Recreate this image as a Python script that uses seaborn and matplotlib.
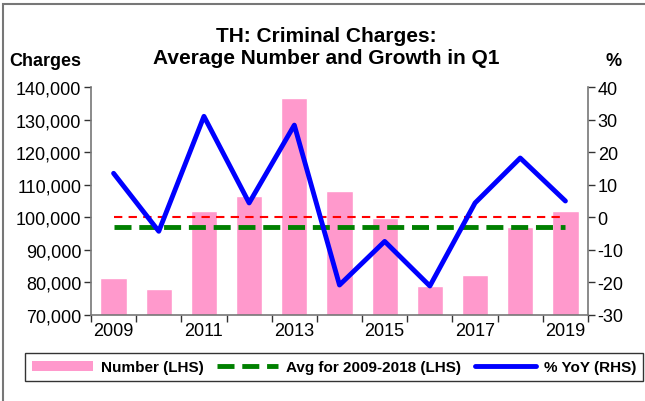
import numpy as np
import pandas as pd
import matplotlib
matplotlib.use("Agg")
import matplotlib.pyplot as plt
import seaborn as sns
from matplotlib.patches import Patch, Rectangle
from matplotlib.lines import Line2D

years = [2009, 2010, 2011, 2012, 2013, 2014, 2015, 2016, 2017, 2018, 2019]
number = [81400, 77900, 101900, 106400, 136500, 108100, 99900, 78900, 82200, 97100, 101900]
yoy = [13.5, -4.3, 31.0, 4.4, 28.3, -20.8, -7.4, -21.1, 4.4, 18.2, 5.0]
left_ticks = [70000, 80000, 90000, 100000, 110000, 120000, 130000, 140000]
right_ticks = [-30, -20, -10, 0, 10, 20, 30, 40]
label_years = [2009, 2011, 2013, 2015, 2017, 2019]

sns.set_theme(style="white")
plt.rcParams['font.family'] = ['Liberation Sans', 'DejaVu Sans']
plt.rcParams['text.color'] = 'black'
plt.rcParams['xtick.color'] = 'black'
plt.rcParams['ytick.color'] = 'black'

pos = np.arange(len(years))
df = pd.DataFrame({"pos": pos, "year": years, "number": number, "yoy": yoy})
avg = float(np.mean([n for y, n in zip(years, number) if 2009 <= y <= 2018]))

fig = plt.figure(figsize=(6.45, 4.02), dpi=100)
ax = fig.add_axes([91/645, 1-316/402, (588-91)/645, (316-88)/402])

pink = "#FF99CC"
sns.barplot(data=df, x="pos", y="number", color=pink, width=0.58, ax=ax,
            saturation=1, order=list(pos), native_scale=True)
ax.plot([pos[0], pos[-1]], [avg, avg], color="#008000", lw=3.5, ls=(0, (3.5, 1.6)), zorder=4)
ax.set_xlim(-0.5, len(years) - 0.5)
ax.set_ylim(70000, 140000)
ax.set_yticks(left_ticks)
ax.set_yticklabels([f"{v:,}" for v in left_ticks])

ax2 = ax.twinx()
ax2.plot([pos[0], pos[-1] - 0.05], [0, 0], color="#FF0000", lw=1.5, ls=(0, (4, 3)), zorder=3)
sns.lineplot(data=df, x="pos", y="yoy", color="#0000FF", lw=3.5, ax=ax2, zorder=5)
ax2.set_ylim(-30, 40)
ax2.set_yticks(right_ticks)
ax2.set_yticklabels([str(v) for v in right_ticks])
ax2.set_xlim(-0.5, len(years) - 0.5)

# x ticks at category boundaries, labels at centres
ax.set_xticks(np.arange(-0.5, len(years), 1.0))
ax.set_xticklabels([])
ax.set_xticks([years.index(y) for y in label_years], minor=True)
ax.set_xticklabels([str(y) for y in label_years], minor=True)
ax.tick_params(axis="x", which="minor", length=0, pad=5, labelsize=13)
ax.tick_params(axis="x", which="major", length=5, width=1, color="#333333", direction="out", bottom=True)
ax.tick_params(axis="y", length=5, width=1, color="#333333", direction="out", labelsize=13, pad=2, left=True)
ax2.tick_params(axis="y", length=5, width=1, color="#333333", direction="out", labelsize=13, pad=2, right=True)
ax.set_xlabel("")
ax.set_ylabel("")
ax2.set_xlabel("")
ax2.set_ylabel("")
for a in (ax, ax2):
    a.grid(False)
    a.spines["top"].set_visible(False)
    for s in ["left", "right", "bottom"]:
        a.spines[s].set_color("#777777")
        a.spines[s].set_linewidth(1.2)
ax.spines["right"].set_visible(False)
ax2.spines["left"].set_visible(False)
ax2.spines["bottom"].set_visible(False)
ax.set_zorder(1)
ax2.set_zorder(2)
ax2.patch.set_visible(False)

fig.text(0.506, 1-37/402, "TH: Criminal Charges:", ha="center", va="center", fontsize=15, fontweight="bold")
fig.text(0.506, 1-58/402, "Average Number and Growth in Q1", ha="center", va="center", fontsize=15, fontweight="bold")
fig.text(9/645, 1-62/402, "Charges", ha="left", va="center", fontsize=13, fontweight="bold")
fig.text(614/645, 1-62/402, "%", ha="center", va="center", fontsize=13, fontweight="bold")

handles = [Patch(facecolor=pink, edgecolor="none"),
           Line2D([], [], color="#008000", lw=3.5, ls=(0, (3.5, 1.6))),
           Line2D([], [], color="#0000FF", lw=3.5)]
labels = ["Number (LHS)", "Avg for 2009-2018 (LHS)", "% YoY (RHS)"]
leg = fig.legend(handles, labels, loc="center", bbox_to_anchor=(334/645, 1-368/402), ncol=3,
                 frameon=True, fancybox=False, edgecolor="black", handlelength=4.0, handleheight=0.65,
                 columnspacing=0.9, handletextpad=0.5, borderpad=0.45,
                 prop={"weight": "bold", "size": 11})
leg.get_frame().set_linewidth(1.0)

fig.patches.append(Rectangle((3/645, -0.1), 1.2, 1-5/402 + 0.1, transform=fig.transFigure,
                             fill=False, edgecolor="#777777", lw=1.5))

fig.savefig("out.png", dpi=100)
